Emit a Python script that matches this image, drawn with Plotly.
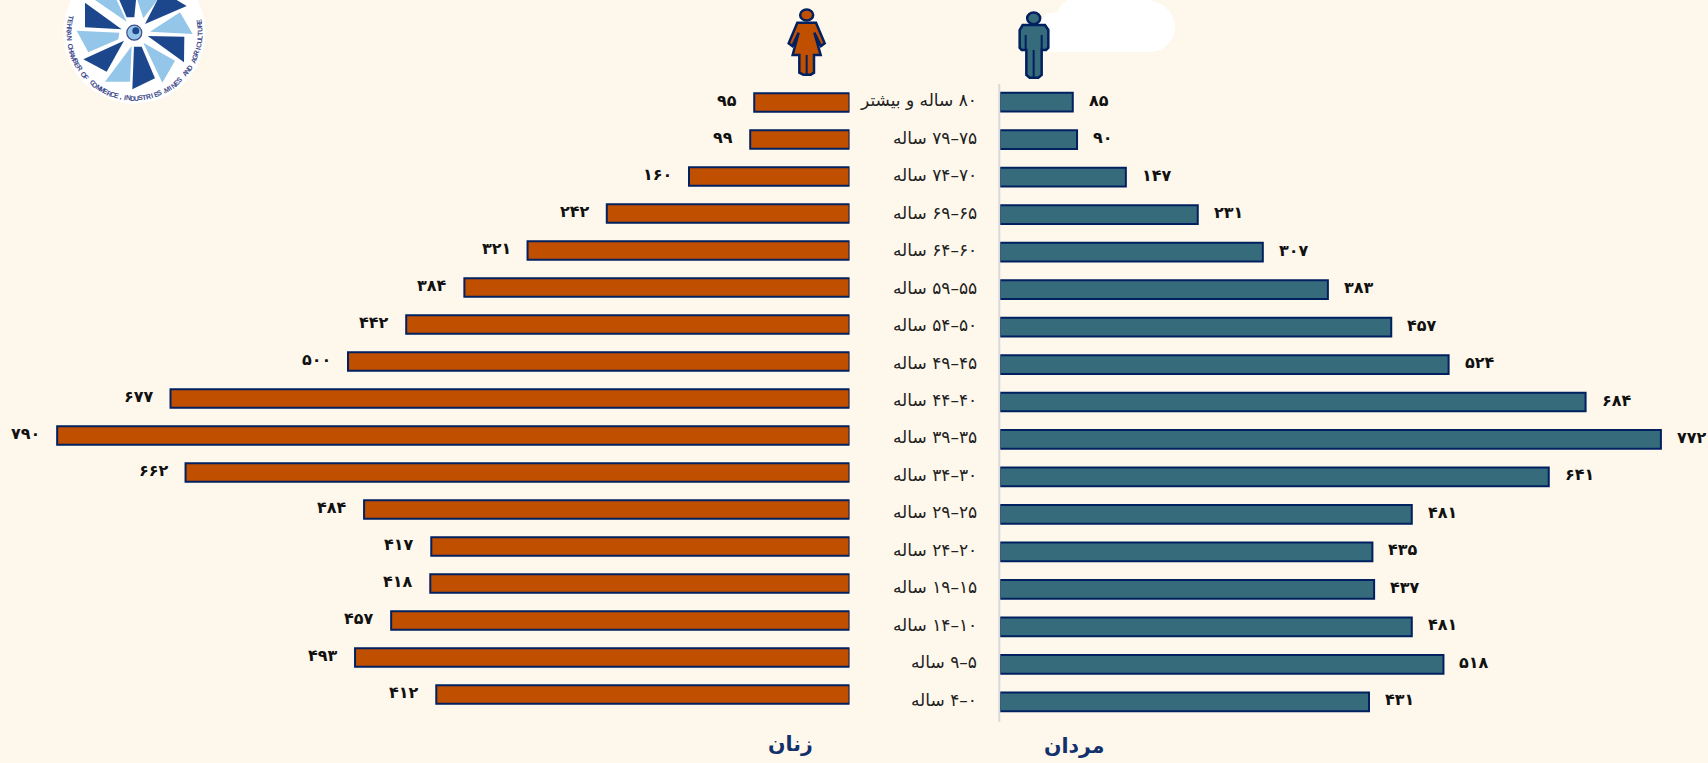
import math
import plotly.graph_objects as go

W, H = 1708, 763
age_labels = ["۸۰ ساله و بیشتر", "۷۵–۷۹ ساله", "۷۰–۷۴ ساله", "۶۵–۶۹ ساله", "۶۰–۶۴ ساله", "۵۵–۵۹ ساله",
              "۵۰–۵۴ ساله", "۴۵–۴۹ ساله", "۴۰–۴۴ ساله", "۳۵–۳۹ ساله", "۳۰–۳۴ ساله", "۲۵–۲۹ ساله",
              "۲۰–۲۴ ساله", "۱۵–۱۹ ساله", "۱۰–۱۴ ساله", "۵–۹ ساله", "۰–۴ ساله"]
women = [95, 99, 160, 242, 321, 384, 442, 500, 677, 790, 662, 484, 417, 418, 457, 493, 412]
men = [85, 90, 147, 231, 307, 383, 457, 524, 684, 772, 641, 481, 435, 437, 481, 518, 431]
women_title = "زنان"
men_title = "مردان"
logo_text = "TEHRAN CHAMBER OF COMMERCE,INDUSTRIES,MINES AND AGRICULTURE"

BG = "#FEF8EC"
NAVY = "#002060"
ORANGE = "#C04F00"
TEAL = "#366B7C"
FONT = "DejaVu Sans"
PERSIAN = str.maketrans("0123456789", "۰۱۲۳۴۵۶۷۸۹")


def fa(n):
    return str(n).translate(PERSIAN)


def px(x, y):
    return x / W, 1 - y / H


def path(points, close=True):
    s = ""
    for i, (x, y) in enumerate(points):
        a, b = px(x, y)
        s += ("M" if i == 0 else "L") + f"{a:.5f},{b:.5f} "
    return s + ("Z" if close else "")


def shape_poly(points, fill, line=None, lw=0, close=True):
    return dict(type="path", xref="paper", yref="paper", path=path(points, close),
                fillcolor=fill if close else "rgba(0,0,0,0)",
                line=dict(color=line or "rgba(0,0,0,0)", width=lw), layer="above")


def ellipse(cx, cy, rx, ry, fill, line=None, lw=0):
    x0, y0 = px(cx - rx, cy - ry)
    x1, y1 = px(cx + rx, cy + ry)
    return dict(type="circle", xref="paper", yref="paper", x0=x0, x1=x1, y0=y0, y1=y1,
                fillcolor=fill, line=dict(color=line or "rgba(0,0,0,0)", width=lw), layer="above")


fig = go.Figure()
fig.add_bar(y=age_labels, x=women, orientation="h", xaxis="x", yaxis="y",
            marker=dict(color=ORANGE, line=dict(color=NAVY, width=2)), showlegend=False)
fig.add_bar(y=age_labels, x=men, orientation="h", xaxis="x2", yaxis="y2",
            marker=dict(color=TEAL, line=dict(color=NAVY, width=2)), showlegend=False)

hidden = dict(showgrid=False, zeroline=False, showticklabels=False, ticks="", showline=False)
annotations = []
for label, w, m in zip(age_labels, women, men):
    annotations.append(dict(x=w, y=label, xref="x", yref="y", text=fa(w), showarrow=False, xanchor="right",
                            yanchor="middle", xshift=-15, yshift=2,
                            font=dict(family=FONT, size=16, color="#111", weight="bold")))
    annotations.append(dict(x=m, y=label, xref="x2", yref="y2", text=fa(m), showarrow=False, xanchor="left",
                            yanchor="middle", xshift=14, yshift=2,
                            font=dict(family=FONT, size=16, color="#111", weight="bold")))
    annotations.append(dict(x=979 / W, y=label, xref="paper", yref="y2", text="\u200f" + label, showarrow=False,
                            xanchor="right", yanchor="middle", yshift=2,
                            font=dict(family=FONT, size=17, color="#222")))

for text, x, y in [(women_title, 790, 744), (men_title, 1074, 746)]:
    a, b = px(x, y)
    annotations.append(dict(x=a, y=b, xref="paper", yref="paper", text=text, showarrow=False,
                            xanchor="center", yanchor="middle",
                            font=dict(family=FONT, size=20.5, color="#12306B", weight="bold")))

# logo ring text
LX, LY, LR = 134.3, 32.7, 65.5
n = len(logo_text)
for i, ch in enumerate(logo_text):
    phi = -103 + 203 * i / (n - 1)
    r = math.radians(phi)
    a, b = px(LX + LR * math.sin(r), LY + LR * math.cos(r))
    if ch != " ":
        annotations.append(dict(x=a, y=b, xref="paper", yref="paper", text=ch, showarrow=False, textangle=-phi,
                                xanchor="center", yanchor="middle",
                                font=dict(family="Liberation Sans", size=7, color="#3F4C8C", weight="bold")))

shapes = []
# center axis line
a0, b0 = px(999.3, 84)
a1, b1 = px(999.3, 722)
shapes.append(dict(type="line", xref="paper", yref="paper", x0=a0, x1=a1, y0=b0, y1=b1,
                   line=dict(color="#D9D9D9", width=2), layer="above"))


def z2(pts):
    return [(720 + x / 3, y / 3) for x, y in pts]


# white cloud at the top
cloud = []
for t in range(0, 91, 10):
    cloud.append((1175 - 25 + 25 * math.cos(math.radians(t)), 27 + 25 * math.sin(math.radians(t))))
cloud += [(1062, 52), (1048, 52), (1040, 45), (1040, 22), (1046, 14), (1058, 12), (1062, 4), (1068, 0), (1150, 0),
          (1163, 5), (1170, 12), (1174, 20)]
shapes.append(shape_poly(cloud, "#FFFFFF"))

# man icon
man = z2([(908, 75), (975, 75), (985, 90), (985, 143), (978, 150), (965, 150), (965, 225), (955, 233), (929, 233),
          (919, 225), (919, 150), (905, 150), (899, 143), (899, 90)])
shapes.append(shape_poly(man, TEAL, NAVY, 2.5))
shapes.append(ellipse(720 + 941 / 3, 55 / 3, 6.5, 5.8, TEAL, NAVY, 2.5))
for seg in [[(917, 105), (917, 150)], [(965, 105), (965, 150)], [(941, 150), (941, 233)]]:
    shapes.append(shape_poly(z2(seg), None, NAVY, 2, close=False))

# woman icon
dress = z2([(232, 68), (288, 68), (314, 130), (303, 138), (283, 98), (302, 165), (282, 165), (282, 218), (272, 224),
            (250, 224), (238, 218), (238, 165), (218, 165), (236, 98), (217, 138), (206, 130)])
shapes.append(shape_poly(dress, ORANGE, NAVY, 2.5))
shapes.append(ellipse(720 + 260 / 3, 45 / 3, 6.5, 5.5, ORANGE, NAVY, 2.5))
shapes.append(shape_poly(z2([(260, 165), (260, 224)]), None, NAVY, 2, close=False))

# logo
shapes.append(ellipse(LX, LY, 71, 71, "#FFFFFF"))
DARK, LIGHT = "#1C478D", "#93C6E8"
wedges = [
    ([(255, 8), (365, 88), (255, 82)], DARK),
    ([(230, 92), (358, 98), (355, 118), (265, 157)], LIGHT),
    ([(250, 178), (372, 122), (320, 215)], DARK),
    ([(315, 245), (395, 138), (390, 245)], LIGHT),
    ([(402, 140), (425, 140), (465, 235), (397, 268)], DARK),
    ([(430, 128), (525, 182), (487, 248)], LIGHT),
    ([(443, 108), (553, 110), (552, 187)], DARK),
    ([(450, 95), (540, 37), (578, 102)], LIGHT),
    ([(435, 72), (472, 0), (530, 0), (560, 18)], DARK),
    ([(430, 55), (472, 0), (412, 0)], LIGHT),
    ([(358, 0), (408, 0), (403, 52), (380, 52)], DARK),
    ([(285, 0), (350, 0), (380, 65)], LIGHT),
]
for pts, col in wedges:
    shapes.append(shape_poly([(x / 3, y / 3) for x, y in pts], col))
shapes.append(ellipse(LX, LY, 7.5, 7.5, LIGHT, "#3F4C8C", 1.2))
shapes.append(ellipse(LX + 1.5, LY - 2, 3.5, 3.5, DARK))

fig.update_layout(
    width=W, height=H, margin=dict(l=0, r=0, t=0, b=0), autosize=False,
    paper_bgcolor=BG, plot_bgcolor=BG, showlegend=False, bargap=0.5,
    xaxis=dict(domain=[0, 849.5 / W], range=[847, 0], anchor="y", **hidden),
    yaxis=dict(domain=[1 - 712.9 / H, 1 - 83.9 / H], categoryorder="array", categoryarray=age_labels,
               range=[16.5, -0.5], anchor="x", **hidden),
    xaxis2=dict(domain=[1000 / W, 1], range=[0, 827], anchor="y2", **hidden),
    yaxis2=dict(domain=[1 - 720.5 / H, 1 - 83.5 / H], categoryorder="array", categoryarray=age_labels,
                range=[16.5, -0.5], anchor="x2", **hidden),
    annotations=annotations, shapes=shapes,
)

fig.write_html("out.html", config=dict(displayModeBar=False),
               post_script=f"document.body.style.margin='0';document.body.style.background='{BG}';")
